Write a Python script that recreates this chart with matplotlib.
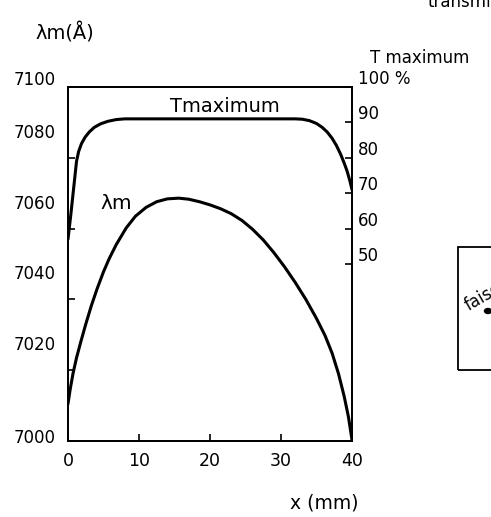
import matplotlib
matplotlib.use("Agg")
import matplotlib.pyplot as plt
import matplotlib.transforms as mtransforms
from matplotlib.patches import Rectangle, Ellipse

# Position across the beam (mm) and measured peak wavelength (Å)
x_lambda = [0, 0.3, 0.7, 1.2, 1.8, 2.5, 3.3, 4.1, 5.0, 5.8, 6.8, 8.2, 9.5, 11,
            12.5, 14, 15.6, 17, 18.5, 20, 21.5, 23, 24.5, 26, 27.5, 29, 30.5,
            32, 33.5, 35, 36.2, 37.2, 38.1, 38.9, 39.5, 40]
lambda_m = [7010.5, 7014.5, 7019, 7023.5, 7028, 7033, 7038.3, 7043, 7047.8,
            7051.5, 7055.5, 7060.2, 7063.5, 7066, 7067.6, 7068.4, 7068.6,
            7068.3, 7067.6, 7066.7, 7065.6, 7064.2, 7062.3, 7059.8, 7056.8,
            7053.2, 7049.2, 7044.8, 7040, 7034.6, 7029.8, 7024.8, 7019,
            7012.6, 7006.8, 7000.3]

# Maximum transmission (%) across the beam
x_t = [0, 0.4, 0.8, 1.2, 1.5, 1.9, 2.4, 3.0, 3.7, 4.6, 5.6, 6.8, 8, 10, 15, 20,
       25, 30, 32, 33, 34, 35, 35.8, 36.5, 37.2, 37.8, 38.4, 38.9, 39.3, 39.7,
       40]
t_max = [57, 64, 71.5, 79, 81.8, 84, 85.8, 87.3, 88.6, 89.6, 90.3, 90.8, 91,
         91, 91, 91, 91, 91, 91, 90.9, 90.5, 89.7, 88.6, 87.3, 85.5, 83.5, 81,
         78.5, 76.3, 73.5, 71]

x_ticks = [0, 10, 20, 30, 40]
x_tick_labels = ["0", "10", "20", "30", "40"]
lambda_ticks = [7000, 7020, 7040, 7060, 7080, 7100]
lambda_tick_labels = ["7000", "7020", "7040", "7060", "7080", "7100"]
t_ticks = [50, 60, 70, 80, 90, 100]
t_tick_labels = ["50", "60", "70", "80", "90", "100 %"]

W, H = 491, 517
FS = 12
plt.rcParams["font.family"] = ["DejaVu Sans"]

fig = plt.figure(figsize=(W / 100, H / 100), dpi=100)
ax = fig.add_axes([68 / W, 1 - 441 / H, (352 - 68) / W, (441 - 87) / H])
ax.set_xlim(0, 40)
ax.set_ylim(7000, 7100)

ax.plot(x_lambda, lambda_m, color="black", lw=2.2,
        solid_capstyle="round", solid_joinstyle="round")

ax.set_xticks(x_ticks)
ax.set_xticklabels(x_tick_labels, fontsize=FS + 0.5)
ax.set_yticks(lambda_ticks)
ax.set_yticklabels(lambda_tick_labels, fontsize=FS)
ax.tick_params(axis="both", direction="in", length=5, width=1.2, color="black")
ax.tick_params(axis="x", pad=8)
ax.tick_params(axis="y", pad=9)
for s in ax.spines.values():
    s.set_linewidth(1.3)

# hand-lettered labels sit above their tick marks
for lab, val in zip(ax.get_yticklabels(), lambda_ticks):
    if val == 7000:
        dy = 5
    elif val == 7100:
        dy = 9
    else:
        dy = 27
    lab.set_transform(lab.get_transform()
                      + mtransforms.ScaledTranslation(0, dy / 100, fig.dpi_scale_trans))

ax2 = ax.twinx()
ax2.set_ylim(0, 100)
ax2.plot(x_t, t_max, color="black", lw=2.2,
         solid_capstyle="round", solid_joinstyle="round")
ax2.set_yticks(t_ticks)
ax2.set_yticklabels(t_tick_labels, fontsize=FS)
ax2.tick_params(axis="y", direction="in", length=5, width=1.2, pad=4)
for s in ax2.spines.values():
    s.set_linewidth(1.3)
for lab in ax2.get_yticklabels():
    lab.set_transform(lab.get_transform()
                      + mtransforms.ScaledTranslation(0, 10 / 100, fig.dpi_scale_trans))

# curve labels
ax2.text(22.1, 94.6, "Tmaximum", ha="center", va="center", fontsize=14)
ax.text(6.8, 7067, "λm", ha="center", va="center", fontsize=14.5)

# axis titles
fig.text(35 / W, 1 - 33 / H, "λm(Å)", ha="left", va="center", fontsize=14)
fig.text(370 / W, 1 - 58 / H, "T maximum", ha="left", va="center", fontsize=FS)
fig.text(290 / W, 1 - 503 / H, "x (mm)", ha="left", va="center", fontsize=13.5)

# neighbouring panel, partly off the page
fig.text(428 / W, 1 - 7 / H, "transmission", ha="left", va="baseline", fontsize=FS)
fig.patches.append(Rectangle((458 / W, 1 - 370 / H), 60 / W, (370 - 247) / H,
                             transform=fig.transFigure, fill=False,
                             edgecolor="black", lw=1.3))
fig.text(462 / W, 1 - 310 / H, "faisceau", ha="left", va="baseline",
         fontsize=FS, rotation=30)
fig.patches.append(Ellipse((488 / W, 1 - 311 / H), 7 / W, 5 / H,
                           transform=fig.transFigure, color="black"))

fig.savefig("out.png", dpi=100)
